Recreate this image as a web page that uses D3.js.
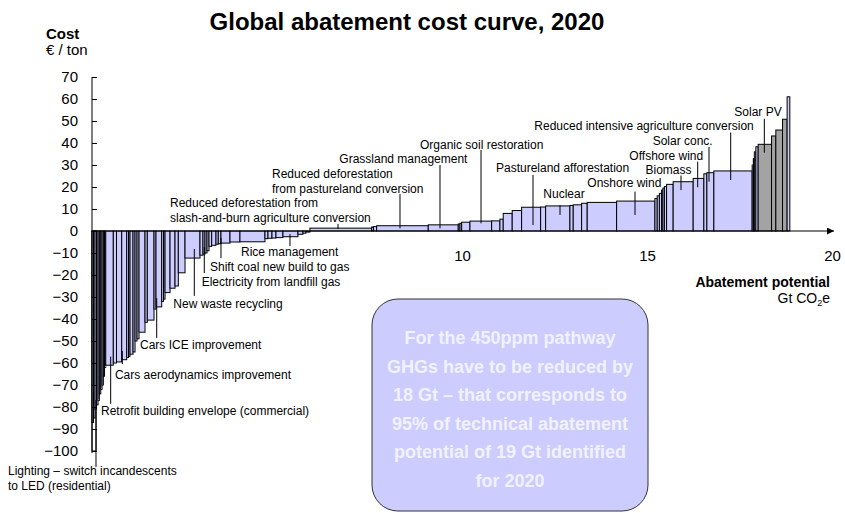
<!DOCTYPE html>
<html><head><meta charset="utf-8">
<script src="https://cdn.jsdelivr.net/npm/d3@7"></script>
<style>
body{margin:0;background:#fff}
text{font-family:"Liberation Sans",Arial,Helvetica,sans-serif;fill:#000}
</style>
</head><body>
<svg id="chart" width="845" height="513"></svg>
<script>
// ---- data ----
// abatement potential of each lever (Gt CO2e), in cost order
const widths = [0.041,0.041,0.041,0.041,0.035,0.038,0.035,0.035,0.032,0.032,
  0.205,0.086,0.141,0.135,0.049,0.041,0.081,0.054,0.054,0.054,
  0.162,0.062,0.181,0.054,0.154,0.049,0.041,0.135,0.135,0.089,
  0.181,0.405,0.081,0.054,0.054,0.054,0.073,0.116,0.062,0.073,
  0.243,0.270,0.676,0.081,0.108,0.108,0.189,0.405,0.135,0.081,
  0.108,1.668,0.049,0.086,1.395,0.811,0.046,0.046,0.224,0.586,
  0.224,0.089,0.243,0.254,0.514,0.135,0.657,0.089,0.227,0.151,
  0.795,1.035,0.062,0.059,0.059,0.035,0.041,0.059,0.178,0.541,
  0.289,0.081,0.189,1.035,0.032,0.027,0.041,0.062,0.362,0.116,
  0.181,0.124,0.073];
// abatement cost of each lever (EUR / t CO2e)
const costs = [-87,-85,-81,-79,-77,-74,-72,-70,-66,-62,
  -61,-60,-59.5,-58.5,-57.5,-57,-56,-55,-50,-49,
  -46,-41.5,-40.5,-35.5,-34.5,-32,-31,-28,-26,-25,
  -19,-12.3,-11,-10.5,-10,-9,-7,-6.5,-6,-5.8,
  -5.5,-5,-4.9,-3.5,-3.3,-3.2,-3,-2.6,-1.5,-1,
  -0.5,1.3,1.8,2,2.4,2.8,3.2,3.5,4,4.5,
  4.6,5.4,8,9.3,10.8,10.9,11.4,11.6,11.9,12.6,
  13,13.6,14.8,16,17.1,18.6,19.5,20.2,21.2,22.4,
  23.9,26,26.5,27.3,30,33,36,38.3,39.4,43.2,
  45.9,50.8,61];
// group of each lever: "base" or "solar" (Solar PV group)
const groups = costs.map((c,i)=> (i>=88 && i<=91) ? "solar" : "base");
// the lighting lever, drawn behind the curve
const lightingStart = 0, lightingWidth = 0.11, lightingCost = -100;

const yTickValues = [70,60,50,40,30,20,10,0,-10,-20,-30,-40,-50,-60,-70,-80,-90,-100];
const xTickValues = [10,15,20];

// annotations: text lines, text anchor (Gt, cost of first baseline), leader (Gt, cost from, cost to)
const labels = [
  {t:["Lighting – switch incandescents","to LED (residential)"], tx:-2.27, ty:-110.9, lx:0.108, l1:-76.8, l2:-107.3},
  {t:["Retrofit building envelope (commercial)"], tx:0.243, ty:-83.6, lx:0.505, l1:-57.1, l2:-78.6},
  {t:["Cars aerodynamics improvement"], tx:0.62, ty:-67.3, lx:0.819, l1:-54.5, l2:-60.5},
  {t:["Cars ICE improvement"], tx:1.297, ty:-53.6, lx:1.749, l1:-30.5, l2:-48.6},
  {t:["New waste recycling"], tx:2.198, ty:-35.0, lx:2.765, l1:-8.2, l2:-29.5},
  {t:["Electricity from landfill gas"], tx:2.964, ty:-25.2, lx:3.035, l1:-7.3, l2:-19.1},
  {t:["Shift coal new build to gas"], tx:3.19, ty:-18.4, lx:3.486, l1:-3.2, l2:-12.3},
  {t:["Rice management"], tx:4.027, ty:-11.4, lx:5.351, l1:-1.4, l2:-6.8},
  {t:["Reduced deforestation from","slash-and-burn agriculture conversion"], tx:2.108, ty:11.1, lx:6.649, l1:3.2, l2:0.9},
  {t:["Reduced deforestation","from pastureland conversion"], tx:4.865, ty:24.3, lx:8.324, l1:16.8, l2:1.2},
  {t:["Grassland management"], tx:6.685, ty:30.7, lx:9.405, l1:30.0, l2:1.2},
  {t:["Organic soil restoration"], tx:8.865, ty:37.5, lx:10.514, l1:36.8, l2:3.5},
  {t:["Pastureland afforestation"], tx:10.919, ty:26.6, lx:11.919, l1:25.5, l2:2.7},
  {t:["Nuclear"], tx:12.198, ty:15.2, lx:12.649, l1:11.8, l2:7.3},
  {t:["Onshore wind"], tx:13.387, ty:20.2, lx:14.676, l1:17.9, l2:7.3},
  {t:["Biomass"], tx:14.96, ty:26.1, lx:15.919, l1:25.2, l2:18.6},
  {t:["Offshore wind"], tx:14.523, ty:32.5, lx:16.37, l1:31.5, l2:19.9},
  {t:["Solar conc."], tx:15.153, ty:39.1, lx:16.676, l1:38.2, l2:22.4},
  {t:["Reduced intensive agriculture conversion"], tx:11.955, ty:45.7, lx:17.262, l1:44.8, l2:23.2},
  {t:["Solar PV"], tx:17.36, ty:52.5, lx:18.171, l1:51.0, l2:35.6}
];

const boxLines = ["For the 450ppm pathway","GHGs have to be reduced by","18 Gt – that corresponds to",
  "95% of technical abatement","potential of 19 Gt identified","for 2020"];

// ---- drawing ----
const svg = d3.select("#chart");
const x = d3.scaleLinear().domain([0,20]).range([92,832]);
const y = d3.scaleLinear().domain([-100,70]).range([451,77]);

const n = Math.min(widths.length, costs.length);
const starts = [0, ...d3.cumsum(widths.slice(0,n))];
const bars = d3.range(n).map(i=>({x0:starts[i], w:widths[i], c:costs[i], g:groups[i]}));

// title
svg.append("text").attr("x",407).attr("y",30).attr("text-anchor","middle")
  .style("font-size","24px").style("font-weight","bold").text("Global abatement cost curve, 2020");
svg.append("text").attr("x",46).attr("y",39).style("font-size","15px").style("font-weight","bold").text("Cost");
svg.append("text").attr("x",46).attr("y",55).style("font-size","15px").text("€ / ton");

// lighting bar (behind)
svg.append("rect")
  .attr("x", x(lightingStart)).attr("width", x(lightingWidth)-x(0))
  .attr("y", y(0)).attr("height", y(lightingCost)-y(0))
  .attr("fill","#ffffff").attr("stroke","#000").attr("stroke-width",1);

// bars
svg.append("g").selectAll("rect").data(bars).join("rect")
  .attr("x", d=>x(d.x0)).attr("width", d=>x(d.x0+d.w)-x(d.x0))
  .attr("y", d=>y(Math.max(0,d.c))).attr("height", d=>Math.abs(y(d.c)-y(0)))
  .attr("fill", d=>d.g==="solar" ? "#a3a3a3" : "#ccccff")
  .attr("stroke","#000").attr("stroke-width",1);

// y axis
const yAxis = d3.axisLeft(y).tickValues(yTickValues).tickSizeInner(-5).tickSizeOuter(0).tickPadding(14)
  .tickFormat(d3.format("d"));
const gy = svg.append("g").attr("transform","translate(92,0)").call(yAxis);
gy.select(".domain").remove();
gy.selectAll("text").style("font-size","15px").attr("fill","#000").style("font-family","Liberation Sans, Arial, sans-serif");
gy.selectAll("line").attr("stroke","#000");
svg.append("line").attr("x1",92).attr("x2",92).attr("y1",y(70)).attr("y2",y(-101)).attr("stroke","#000");

// x axis
const defs = svg.append("defs");
defs.append("marker").attr("id","arr").attr("viewBox","0 0 10 10").attr("refX",10).attr("refY",5)
  .attr("markerWidth",8).attr("markerHeight",7).attr("markerUnits","userSpaceOnUse").attr("orient","auto")
  .append("path").attr("d","M0,0L10,5L0,10z").attr("fill","#000");
svg.append("line").attr("x1",92).attr("x2",x(20)+2).attr("y1",y(0)).attr("y2",y(0))
  .attr("stroke","#000").attr("stroke-width",1).attr("marker-end","url(#arr)");
const xAxis = d3.axisBottom(x).tickValues(xTickValues).tickSize(0).tickPadding(19).tickFormat(d3.format("d"));
const gx = svg.append("g").attr("transform",`translate(0,${y(0)})`).call(xAxis);
gx.select(".domain").remove();
gx.selectAll("text").style("font-size","15px").attr("fill","#000").style("font-family","Liberation Sans, Arial, sans-serif");

svg.append("text").attr("x",830).attr("y",287).attr("text-anchor","end")
  .style("font-size","14px").style("font-weight","bold").text("Abatement potential");
const gt = svg.append("text").attr("x",830).attr("y",303).attr("text-anchor","end").style("font-size","14px");
gt.append("tspan").text("Gt CO");
gt.append("tspan").text("2").style("font-size","9px").attr("dy",3);
gt.append("tspan").text("e").attr("dy",-3);

// annotations
const ag = svg.append("g");
labels.forEach(l=>{
  ag.append("line").attr("x1",x(l.lx)).attr("x2",x(l.lx)).attr("y1",y(l.l1)).attr("y2",y(l.l2))
    .attr("stroke","#000").attr("stroke-width",1);
  const t = ag.append("text").attr("x",x(l.tx)).attr("y",y(l.ty)).style("font-size","12px");
  l.t.forEach((s,i)=> t.append("tspan").attr("x",x(l.tx)).attr("dy", i===0?0:15.5).text(s));
});

// callout box
svg.append("rect").attr("x",372).attr("y",299).attr("width",276).attr("height",212).attr("rx",26)
  .attr("fill","#ccccff").attr("stroke","#333").attr("stroke-width",1);
const bt = svg.append("text").attr("text-anchor","middle").style("font-size","18px").style("font-weight","bold");
boxLines.forEach((s,i)=> bt.append("tspan").attr("x",510).attr("y",344+i*28.6).attr("fill","#f2f2ff").style("fill","#f2f2ff").text(s));
</script>
</body></html>
